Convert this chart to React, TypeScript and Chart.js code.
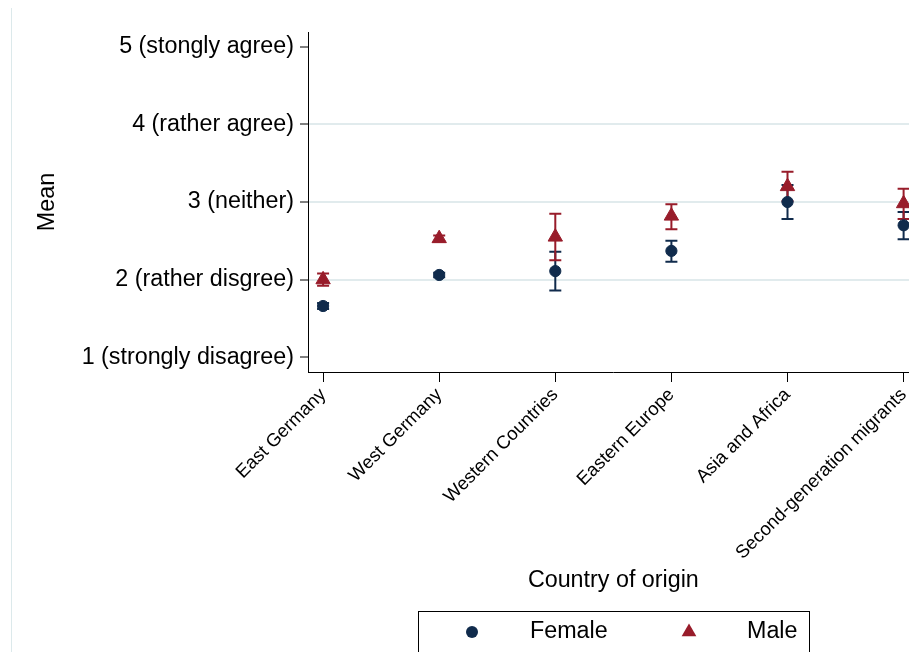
import React, { useEffect, useRef } from 'react';
import { Chart, registerables } from 'chart.js';

Chart.register(...registerables);

const categories = [
  'East Germany',
  'West Germany',
  'Western Countries',
  'Eastern Europe',
  'Asia and Africa',
  'Second-generation migrants',
];
const femaleMean = [1.66, 2.06, 2.11, 2.37, 3.0, 2.7];
const femaleLower = [1.62, 2.03, 1.86, 2.23, 2.78, 2.52];
const femaleUpper = [1.7, 2.09, 2.36, 2.5, 3.22, 2.87];
const maleMean = [2.0, 2.53, 2.55, 2.82, 3.2, 2.98];
const maleLower = [1.92, 2.49, 2.25, 2.65, 3.01, 2.78];
const maleUpper = [2.08, 2.57, 2.85, 2.97, 3.39, 3.17];
const yTickValues = [1, 2, 3, 4, 5];
const yTickLabels = [
  '1 (strongly disagree)',
  '2 (rather disgree)',
  '3 (neither)',
  '4 (rather agree)',
  '5 (stongly agree)',
];
const gridValues = [2, 3, 4];
const seriesNames = ['Female', 'Male'];

const NAVY = '#102b4c';
const MAROON = '#981c2a';
const GRID = '#e1ebed';
const FONT = "'Liberation Sans', Arial, Helvetica, sans-serif";

const errorBarPlugin = {
  id: 'errorBars',
  beforeDraw(chart: any) {
    const { ctx } = chart;
    ctx.save();
    ctx.strokeStyle = '#dce9eb';
    ctx.lineWidth = 1;
    ctx.beginPath();
    ctx.moveTo(11.5, 8);
    ctx.lineTo(11.5, chart.height);
    ctx.stroke();
    ctx.restore();
  },
  beforeDatasetsDraw(chart: any) {
    const { ctx } = chart;
    const xs = chart.scales.x;
    const ys = chart.scales.y;
    const draw = (lo: number[], hi: number[], color: string) => {
      ctx.save();
      ctx.strokeStyle = color;
      ctx.lineWidth = 2;
      lo.forEach((l, i) => {
        const px = xs.getPixelForValue(i + 1);
        const pl = ys.getPixelForValue(l);
        const ph = ys.getPixelForValue(hi[i]);
        ctx.beginPath();
        ctx.moveTo(px, pl);
        ctx.lineTo(px, ph);
        ctx.moveTo(px - 6, pl);
        ctx.lineTo(px + 6, pl);
        ctx.moveTo(px - 6, ph);
        ctx.lineTo(px + 6, ph);
        ctx.stroke();
      });
      ctx.restore();
    };
    draw(femaleLower, femaleUpper, NAVY);
    draw(maleLower, maleUpper, MAROON);
  },
  afterDraw(chart: any) {
    const { ctx } = chart;
    ctx.save();
    // legend box
    ctx.strokeStyle = '#000';
    ctx.lineWidth = 1;
    ctx.strokeRect(418.5, 611.5, 391, 60);
    // female marker
    ctx.fillStyle = NAVY;
    ctx.beginPath();
    ctx.arc(472, 632, 6, 0, Math.PI * 2);
    ctx.fill();
    // male marker
    const r = 8.5;
    ctx.fillStyle = MAROON;
    ctx.beginPath();
    for (let k = 0; k < 3; k++) {
      const a = (k * 2 * Math.PI) / 3;
      const x = 689 + Math.sin(a) * r;
      const y = 632 - Math.cos(a) * r;
      if (k === 0) ctx.moveTo(x, y);
      else ctx.lineTo(x, y);
    }
    ctx.closePath();
    ctx.fill();
    ctx.fillStyle = '#000';
    ctx.font = `23.3px ${FONT}`;
    ctx.textBaseline = 'middle';
    ctx.textAlign = 'left';
    ctx.fillText(seriesNames[0], 530, 632);
    ctx.fillText(seriesNames[1], 747, 632);
    ctx.restore();
  },
};

export default function App() {
  const ref = useRef<HTMLCanvasElement>(null);

  useEffect(() => {
    if (!ref.current) return;
    const chart = new Chart(ref.current, {
      type: 'scatter',
      data: {
        datasets: [
          {
            label: seriesNames[0],
            data: femaleMean.map((v, i) => ({ x: i + 1, y: v })),
            pointStyle: 'circle',
            pointRadius: 5.6,
            backgroundColor: NAVY,
            borderColor: NAVY,
            borderWidth: 1,
          },
          {
            label: seriesNames[1],
            data: maleMean.map((v, i) => ({ x: i + 1, y: v })),
            pointStyle: 'triangle',
            pointRadius: 8.3,
            backgroundColor: MAROON,
            borderColor: MAROON,
            borderWidth: 1,
          },
        ],
      },
      options: {
        responsive: false,
        animation: false,
        devicePixelRatio: 1,
        events: [],
        layout: { padding: { top: 32, right: 1, left: 0, bottom: 0 } },
        plugins: {
          legend: { display: false },
          tooltip: { enabled: false },
        },
        scales: {
          x: {
            type: 'linear',
            position: 'bottom',
            min: 0.87,
            max: 6.13,
            afterBuildTicks: (s: any) => {
              s.ticks = categories.map((_, i) => ({ value: i + 1 }));
            },
            afterFit: (s: any) => {
              s.height = 280;
            },
            ticks: {
              autoSkip: false,
              minRotation: 45,
              maxRotation: 45,
              color: '#000',
              padding: 2,
              font: { size: 18.5, family: FONT },
              callback: (v: any) => categories[Math.round(Number(v)) - 1] ?? '',
            },
            grid: {
              drawOnChartArea: false,
              drawTicks: true,
              tickLength: 10,
              tickColor: '#000',
              tickWidth: 1,
            },
            border: { display: true, color: '#000', width: 1 },
            title: {
              display: true,
              text: 'Country of origin',
              color: '#000',
              font: { size: 23.3, family: FONT },
              padding: { top: 0, bottom: 57 },
            },
          },
          y: {
            type: 'linear',
            min: 0.81,
            max: 5.19,
            afterBuildTicks: (s: any) => {
              s.ticks = yTickValues.map((v) => ({ value: v }));
            },
            afterFit: (s: any) => {
              s.width = 308;
            },
            ticks: {
              autoSkip: false,
              color: '#000',
              padding: 6,
              font: { size: 23.3, family: FONT },
              callback: (v: any) => yTickLabels[yTickValues.indexOf(Number(v))] ?? '',
            },
            grid: {
              color: (c: any) =>
                c.tick && gridValues.includes(c.tick.value) ? GRID : 'rgba(0,0,0,0)',
              lineWidth: 2,
              drawTicks: true,
              tickLength: 8,
              tickColor: '#000',
              tickWidth: 1,
            },
            border: { display: true, color: '#000', width: 1 },
            title: {
              display: true,
              text: 'Mean',
              color: '#000',
              font: { size: 23.3, family: FONT },
              padding: { top: 34, bottom: 0 },
            },
          },
        },
      },
      plugins: [errorBarPlugin],
    } as any);
    return () => chart.destroy();
  }, []);

  return (
    <div
      style={{
        position: 'fixed',
        left: 0,
        top: 0,
        width: 909,
        height: 652,
        overflow: 'hidden',
        background: '#fff',
      }}
    >
      <canvas ref={ref} width={928} height={652} style={{ display: 'block' }} />
    </div>
  );
}
